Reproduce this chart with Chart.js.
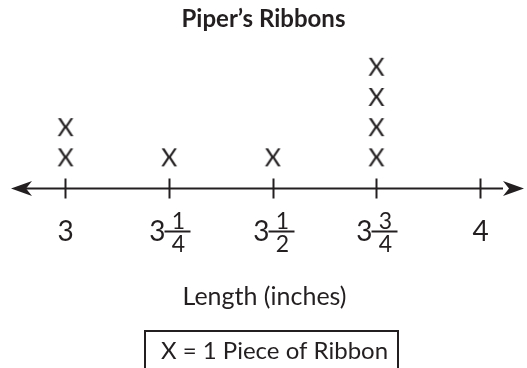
<!DOCTYPE html>
<html>
<head>
<meta charset="utf-8">
<script src="https://cdn.jsdelivr.net/npm/chart.js@4/dist/chart.umd.min.js"></script>
<style>
  html, body { margin: 0; padding: 0; background: #ffffff; }
  #wrap { width: 527px; height: 368px; }
</style>
</head>
<body>
<div id="wrap"><canvas id="plot" width="527" height="368"></canvas></div>
<script>
// Ribbon lengths (inches) and how many ribbons have each length
const lengths = [3, 3.25, 3.5, 3.75, 4];
const ribbonCounts = [2, 1, 1, 4, 0];

// Tick labels written as mixed numbers: whole part, numerator, denominator
const tickWholes = ['3', '3', '3', '3', '4'];
const tickNumerators = ['', '1', '1', '3', ''];
const tickDenominators = ['', '4', '2', '4', ''];

const titleText = 'Piper’s Ribbons';
const axisTitleText = 'Length (inches)';
const keyText = 'X = 1 Piece of Ribbon';

const INK = '#231f20';
const FONT = 'Lato, "Open Sans", sans-serif';

// One point per ribbon, stacked upward above its length
const marks = [];
lengths.forEach((len, i) => {
  for (let k = 1; k <= ribbonCounts[i]; k++) marks.push({ x: len, y: k });
});

// The "X" glyph used as the point marker
function makeXGlyph(size, fontPx) {
  const c = document.createElement('canvas');
  c.width = size; c.height = size;
  const g = c.getContext('2d');
  g.fillStyle = INK;
  g.font = `${fontPx}px ${FONT}`;
  g.textAlign = 'center';
  g.textBaseline = 'middle';
  g.fillText('X', size / 2, size / 2 + 1);
  return c;
}
const xGlyph = makeXGlyph(30, 25);

// Number line: arrowed axis, tick marks, mixed-number labels, axis title, key
const numberLine = {
  id: 'numberLine',
  afterDraw(chart) {
    const ctx = chart.ctx;
    const xs = chart.scales.x;
    const ys = chart.scales.y;
    const axisY = Math.round(ys.getPixelForValue(0)) + 0.5;
    const W = chart.width;

    ctx.save();
    ctx.strokeStyle = INK;
    ctx.fillStyle = INK;

    // main line
    ctx.lineWidth = 2;
    ctx.beginPath();
    ctx.moveTo(24, axisY);
    ctx.lineTo(W - 24, axisY);
    ctx.stroke();

    // arrowheads
    const arrow = (tipX, dir) => {
      ctx.beginPath();
      ctx.moveTo(tipX, axisY);
      ctx.lineTo(tipX + dir * 21, axisY - 7.5);
      ctx.lineTo(tipX + dir * 15, axisY);
      ctx.lineTo(tipX + dir * 21, axisY + 7.5);
      ctx.closePath();
      ctx.fill();
    };
    arrow(11, 1);
    arrow(W - 3, -1);

    // tick marks and labels
    const wholeFont = `28px ${FONT}`;
    const fracFont = `23px ${FONT}`;
    const labelMid = axisY + 43;
    lengths.forEach((len, i) => {
      const tx = Math.round(xs.getPixelForValue(len)) + 0.5;
      ctx.lineWidth = 2;
      ctx.beginPath();
      ctx.moveTo(tx, axisY - 10);
      ctx.lineTo(tx, axisY + 10);
      ctx.stroke();

      ctx.textBaseline = 'middle';
      if (!tickNumerators[i]) {
        ctx.font = wholeFont;
        ctx.textAlign = 'center';
        ctx.fillText(tickWholes[i], tx, labelMid);
      } else {
        ctx.font = wholeFont;
        ctx.textAlign = 'right';
        ctx.fillText(tickWholes[i], tx - 4, labelMid);
        const barL = tx - 5, barR = tx + 21;
        ctx.lineWidth = 2;
        ctx.beginPath();
        ctx.moveTo(barL, labelMid);
        ctx.lineTo(barR, labelMid);
        ctx.stroke();
        ctx.font = fracFont;
        ctx.textAlign = 'center';
        ctx.textBaseline = 'alphabetic';
        ctx.fillText(tickNumerators[i], (barL + barR) / 2 + 1, labelMid - 3);
        ctx.textBaseline = 'top';
        ctx.fillText(tickDenominators[i], (barL + barR) / 2 + 1, labelMid + 2);
      }
    });

    // axis title
    ctx.font = `25px ${FONT}`;
    ctx.textAlign = 'center';
    ctx.textBaseline = 'middle';
    ctx.fillText(axisTitleText, W / 2 + 1, 297);

    // key box
    ctx.lineWidth = 2;
    ctx.strokeRect(145, 331, 253, 50);
    ctx.font = `24px ${FONT}`;
    ctx.textAlign = 'left';
    ctx.fillText(keyText, 161, 351);
    ctx.restore();
  }
};

new Chart(document.getElementById('plot'), {
  type: 'scatter',
  data: {
    datasets: [{
      data: marks,
      pointStyle: xGlyph,
      pointRadius: 12,
      pointHoverRadius: 12,
      showLine: false,
      clip: false
    }]
  },
  options: {
    responsive: false,
    animation: false,
    devicePixelRatio: 1,
    events: [],
    layout: { autoPadding: false, padding: { left: 0, right: 0, top: 0, bottom: 180.5 } },
    plugins: {
      legend: { display: false },
      tooltip: { enabled: false },
      title: {
        display: true,
        text: titleText,
        color: INK,
        font: { family: FONT, size: 24, weight: 'bold', lineHeight: 1.2 },
        padding: { top: 5, bottom: 4 }
      }
    },
    scales: {
      x: { type: 'linear', min: 2.842, max: 4.1134, display: false },
      y: { type: 'linear', min: 0, max: 4.96, display: false }
    }
  },
  plugins: [numberLine]
});
</script>
</body>
</html>
